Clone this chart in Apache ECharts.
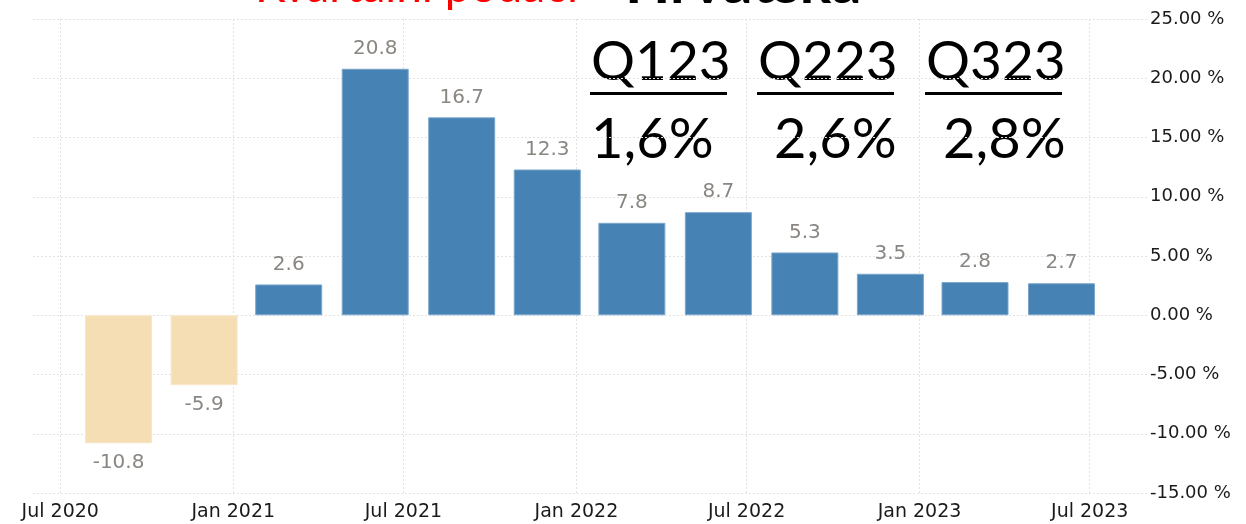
<!DOCTYPE html>
<html>
<head>
<meta charset="utf-8">
<script src="https://cdn.jsdelivr.net/npm/echarts@6/dist/echarts.min.js"></script>
<style>
  html, body { margin: 0; padding: 0; background: #fff; }
  #chart { width: 1246px; height: 524px; }
</style>
</head>
<body>
<div id="chart"></div>
<script>
// quarterly values, plotted at the last month of each quarter
var dates = ['2020-09-01', '2020-12-01', '2021-03-01', '2021-06-01', '2021-09-01', '2021-12-01',
             '2022-03-01', '2022-06-01', '2022-09-01', '2022-12-01', '2023-03-01', '2023-06-01'];
var values = [-10.8, -5.9, 2.6, 20.8, 16.7, 12.3, 7.8, 8.7, 5.3, 3.5, 2.8, 2.7];

// x axis ticks
var tickDates = ['2020-07-01', '2021-01-01', '2021-07-01', '2022-01-01', '2022-07-01', '2023-01-01', '2023-07-01'];
var tickLabels = ['Jul 2020', 'Jan 2021', 'Jul 2021', 'Jan 2022', 'Jul 2022', 'Jan 2023', 'Jul 2023'];

// overlay text
var quarterNames = ['Q123', 'Q223', 'Q323'];
var quarterValues = ['1,6%', '2,6%', '2,8%'];

var myChart = echarts.init(document.getElementById('chart'));

function ts(s) { return echarts.number.parseDate(s).getTime(); }
var tickTs = tickDates.map(ts);

var gridStyle = { color: '#e2e2e2', type: [2, 2], width: 1 };

// big overlay texts
var qx = [591, 758, 926];
var vx = [591, 774, 943];
var graphics = [
    { type: 'text', left: 255, top: -36, style: { text: 'Kvartalni podaci', fill: '#ff0000', font: '46px Lato' } },
    { type: 'text', left: 625, top: -46, style: { text: 'Hrvatska', fill: '#000', font: 'bold 59px Lato' } }
];
quarterNames.forEach(function (q, i) {
    graphics.push({ type: 'text', left: qx[i], top: 35, style: { text: q, fill: '#000', font: '55px Lato' } });
    graphics.push({ type: 'rect', shape: { x: qx[i] - 1, y: 92, width: 137, height: 3 }, style: { fill: '#000' } });
    graphics.push({ type: 'text', left: vx[i], top: 112, style: { text: quarterValues[i], fill: '#000', font: '56px Lato' } });
});

var option = {
    animation: false,
    backgroundColor: '#fff',
    grid: { left: 33, right: 98, top: 19, bottom: 31, containLabel: false },
    xAxis: {
        type: 'value',
        min: ts('2020-06-02'),
        max: ts('2023-09-01'),
        axisLine: { show: false },
        axisTick: { show: false, customValues: tickTs },
        splitLine: { show: false },
        axisLabel: {
            customValues: tickTs,
            margin: 10,
            color: '#1a1a1a',
            fontSize: 19,
            fontFamily: 'DejaVu Sans',
            formatter: function (v) {
                var i = tickTs.indexOf(v);
                return i >= 0 ? tickLabels[i] : '';
            }
        }
    },
    yAxis: {
        type: 'value',
        position: 'right',
        min: -15,
        max: 25,
        interval: 5,
        axisLine: { show: false },
        axisTick: { show: false },
        splitLine: { show: true, lineStyle: gridStyle },
        axisLabel: {
            margin: 2,
            color: '#1a1a1a',
            fontSize: 18,
            fontFamily: 'DejaVu Sans',
            formatter: function (v) { return v.toFixed(2) + ' %'; }
        }
    },
    series: [{
        type: 'bar',
        barWidth: 67,
        data: dates.map(function (d, i) {
            var neg = values[i] < 0;
            return {
                value: [ts(d), values[i]],
                itemStyle: {
                    color: neg ? '#f5deb3' : '#4682b4',
                    borderColor: neg ? '#f8e6c6' : '#7aa6cc',
                    borderWidth: 1
                },
                label: { position: neg ? 'bottom' : 'top' }
            };
        }),
        label: {
            show: true,
            distance: 10,
            color: '#8a8682',
            fontSize: 20,
            fontFamily: 'DejaVu Sans',
            formatter: function (p) { return p.value[1].toFixed(1); }
        },
        // vertical grid lines at the x axis ticks
        markLine: {
            silent: true,
            symbol: 'none',
            label: { show: false },
            lineStyle: gridStyle,
            z: 0,
            data: tickTs.map(function (t) { return { xAxis: t }; })
        }
    }],
    graphic: graphics
};

myChart.setOption(option);
window.addEventListener('resize', function () {
    myChart.resize();
});
</script>
</body>
</html>
